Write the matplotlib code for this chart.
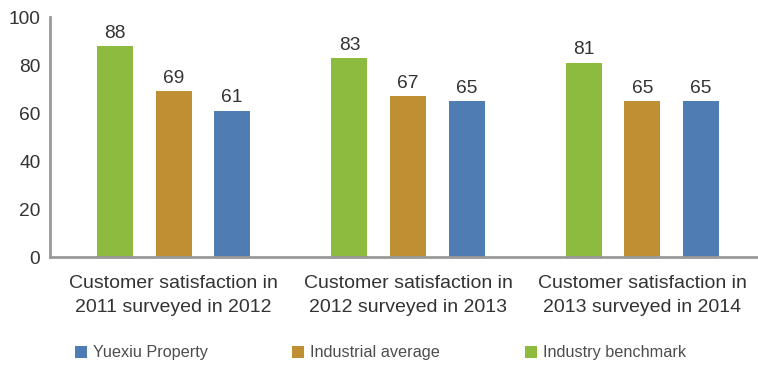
import numpy as np
import matplotlib.pyplot as plt

plt.rcParams['font.family'] = ['Liberation Sans', 'DejaVu Sans']

# data
categories = ["Customer satisfaction in\n2011 surveyed in 2012",
              "Customer satisfaction in\n2012 surveyed in 2013",
              "Customer satisfaction in\n2013 surveyed in 2014"]
benchmark = [88, 83, 81]
industrial_avg = [69, 67, 65]
yuexiu = [61, 65, 65]

c_green = "#8DBB3F"
c_gold = "#BF9033"
c_blue = "#4F7DB3"
txt = "#333333"

fig = plt.figure(figsize=(7.58, 3.67), dpi=100)
ax = fig.add_axes([50 / 758, 1 - 257 / 367, 716 / 758, 240 / 367])

x = np.arange(len(categories))
w = 0.154
b1 = ax.bar(x - 0.25, benchmark, w, color=c_green, label="Industry benchmark")
b2 = ax.bar(x, industrial_avg, w, color=c_gold, label="Industrial average")
b3 = ax.bar(x + 0.25, yuexiu, w, color=c_blue, label="Yuexiu Property")

for bars in (b1, b2, b3):
    ax.bar_label(bars, padding=3, fontsize=13.8, color=txt)

ax.set_xlim(-0.527, 2.527)
ax.set_ylim(0, 100)
ax.set_yticks(range(0, 101, 20))
ax.set_xticks(x)
ax.set_xticklabels(categories, fontsize=14, color=txt, linespacing=1.5)
ax.tick_params(axis='both', length=0, colors=txt)
ax.tick_params(axis='y', pad=7, labelsize=13.8)
ax.tick_params(axis='x', pad=13, labelsize=14)

for s in ("top", "right"):
    ax.spines[s].set_visible(False)
for s in ("left", "bottom"):
    ax.spines[s].set_color("#999999")
    ax.spines[s].set_linewidth(2)

fig.legend(handles=[b3, b2, b1], loc="center left", bbox_to_anchor=(75 / 758, 1 - 353 / 367),
           ncol=3, frameon=False, fontsize=11.7, handlelength=0.74, handleheight=0.74,
           handletextpad=0.37, columnspacing=5.2, labelcolor="#4d4d4d", borderaxespad=0,
           borderpad=0)

fig.savefig("out.png", dpi=100)
